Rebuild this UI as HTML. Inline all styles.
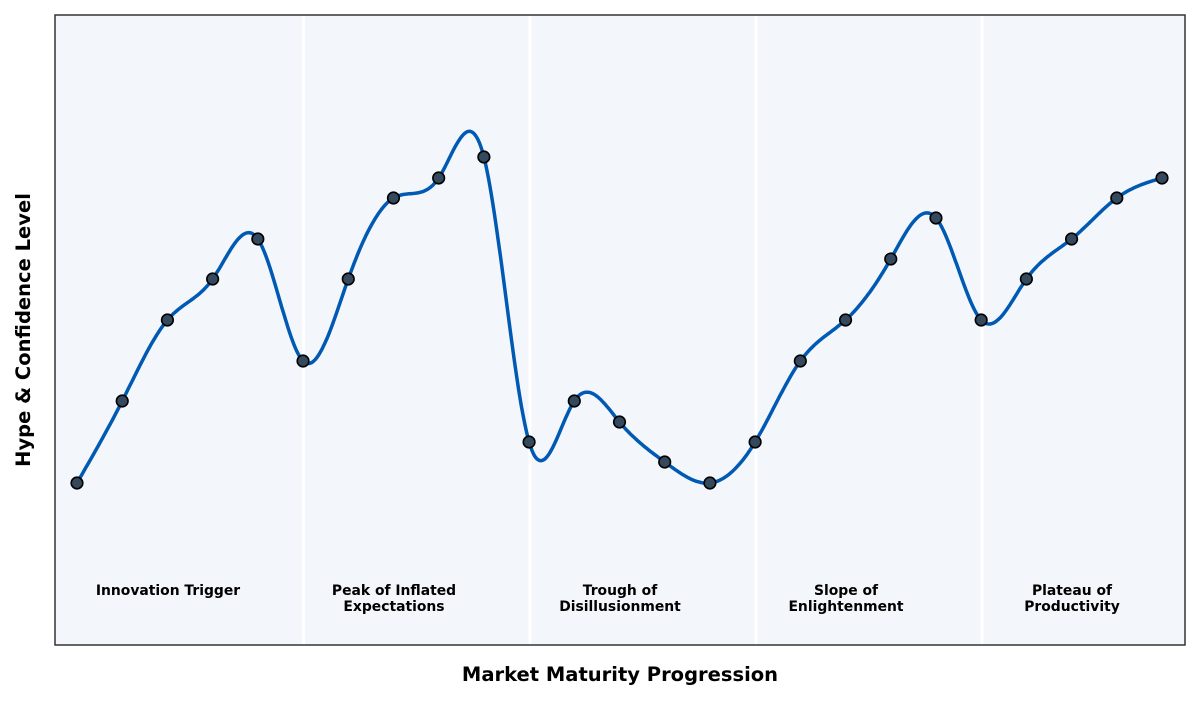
<!DOCTYPE html>
<html><head><meta charset="utf-8"><style>
body{margin:0;background:#fff;width:1200px;height:700px;overflow:hidden;font-family:"DejaVu Sans",sans-serif}
</style></head><body>
<svg id="s" width="1200" height="700" xmlns="http://www.w3.org/2000/svg" font-family="DejaVu Sans, sans-serif">
<rect x="55" y="15" width="1130" height="630" fill="#f3f6fa"/>
<g stroke="#ffffff" stroke-width="3">
<line x1="303.5" y1="15" x2="303.5" y2="645"/><line x1="530" y1="15" x2="530" y2="645"/>
<line x1="756" y1="15" x2="756" y2="645"/><line x1="982" y1="15" x2="982" y2="645"/>
</g>
<polyline id="curve" fill="none" stroke="#0059b3" stroke-width="3.5" stroke-linejoin="round"/>
<g id="pts" fill="#34495e" stroke="#000" stroke-width="1.6"></g>
<rect x="55" y="15" width="1130" height="630" fill="none" stroke="#333" stroke-width="1.5"/>
<g font-size="13.9" font-weight="bold" text-anchor="middle" fill="#000">
<text x="168" y="595">Innovation Trigger</text>
<text x="394" y="595">Peak of Inflated</text><text x="394" y="611">Expectations</text>
<text x="620" y="595">Trough of</text><text x="620" y="611">Disillusionment</text>
<text x="846" y="595">Slope of</text><text x="846" y="611">Enlightenment</text>
<text x="1072" y="595">Plateau of</text><text x="1072" y="611">Productivity</text>
</g>
<text x="620" y="681" font-size="19.5" font-weight="bold" text-anchor="middle">Market Maturity Progression</text>
<text transform="translate(30,330) rotate(-90)" font-size="19.5" font-weight="bold" text-anchor="middle">Hype &amp; Confidence Level</text>
</svg>
<script>
var ys=[483,401,320,279,239,361,279,198,178,157,442,401,422,462,483,442,361,320,259,218,320,279,239,198,178];
var n=ys.length,xs=[];for(var i=0;i<n;i++)xs.push(77+i*(1162-77)/(n-1));
var h=xs[1]-xs[0],M=new Array(n).fill(0);
var cp=[],dp=[];
for(i=1;i<n-1;i++){var rhs=6*(ys[i+1]-2*ys[i]+ys[i-1])/(h*h);var bb=4,aa=1,cc=1;
 if(i==1){cp[i]=cc/bb;dp[i]=rhs/bb;}else{var m=bb-aa*cp[i-1];cp[i]=cc/m;dp[i]=(rhs-aa*dp[i-1])/m;}}
for(i=n-2;i>=1;i--){M[i]=dp[i]-(i<n-2?cp[i]*M[i+1]:0);}
var p=[];
for(i=0;i<n-1;i++){for(var k=0;k<30;k++){var t=k/30*h,x0=xs[i],x1=xs[i+1];
 var A=(x1-(x0+t))/h,B=t/h;
 var y=A*ys[i]+B*ys[i+1]+((A*A*A-A)*M[i]+(B*B*B-B)*M[i+1])*h*h/6;
 p.push((x0+t).toFixed(1)+","+y.toFixed(1));}}
p.push(xs[n-1]+","+ys[n-1]);
document.getElementById("curve").setAttribute("points",p.join(" "));
var g=document.getElementById("pts"),s="";
for(i=0;i<n;i++)s+='<circle cx="'+xs[i]+'" cy="'+ys[i]+'" r="5.8"/>';
g.innerHTML=s;
</script>
</body></html>
